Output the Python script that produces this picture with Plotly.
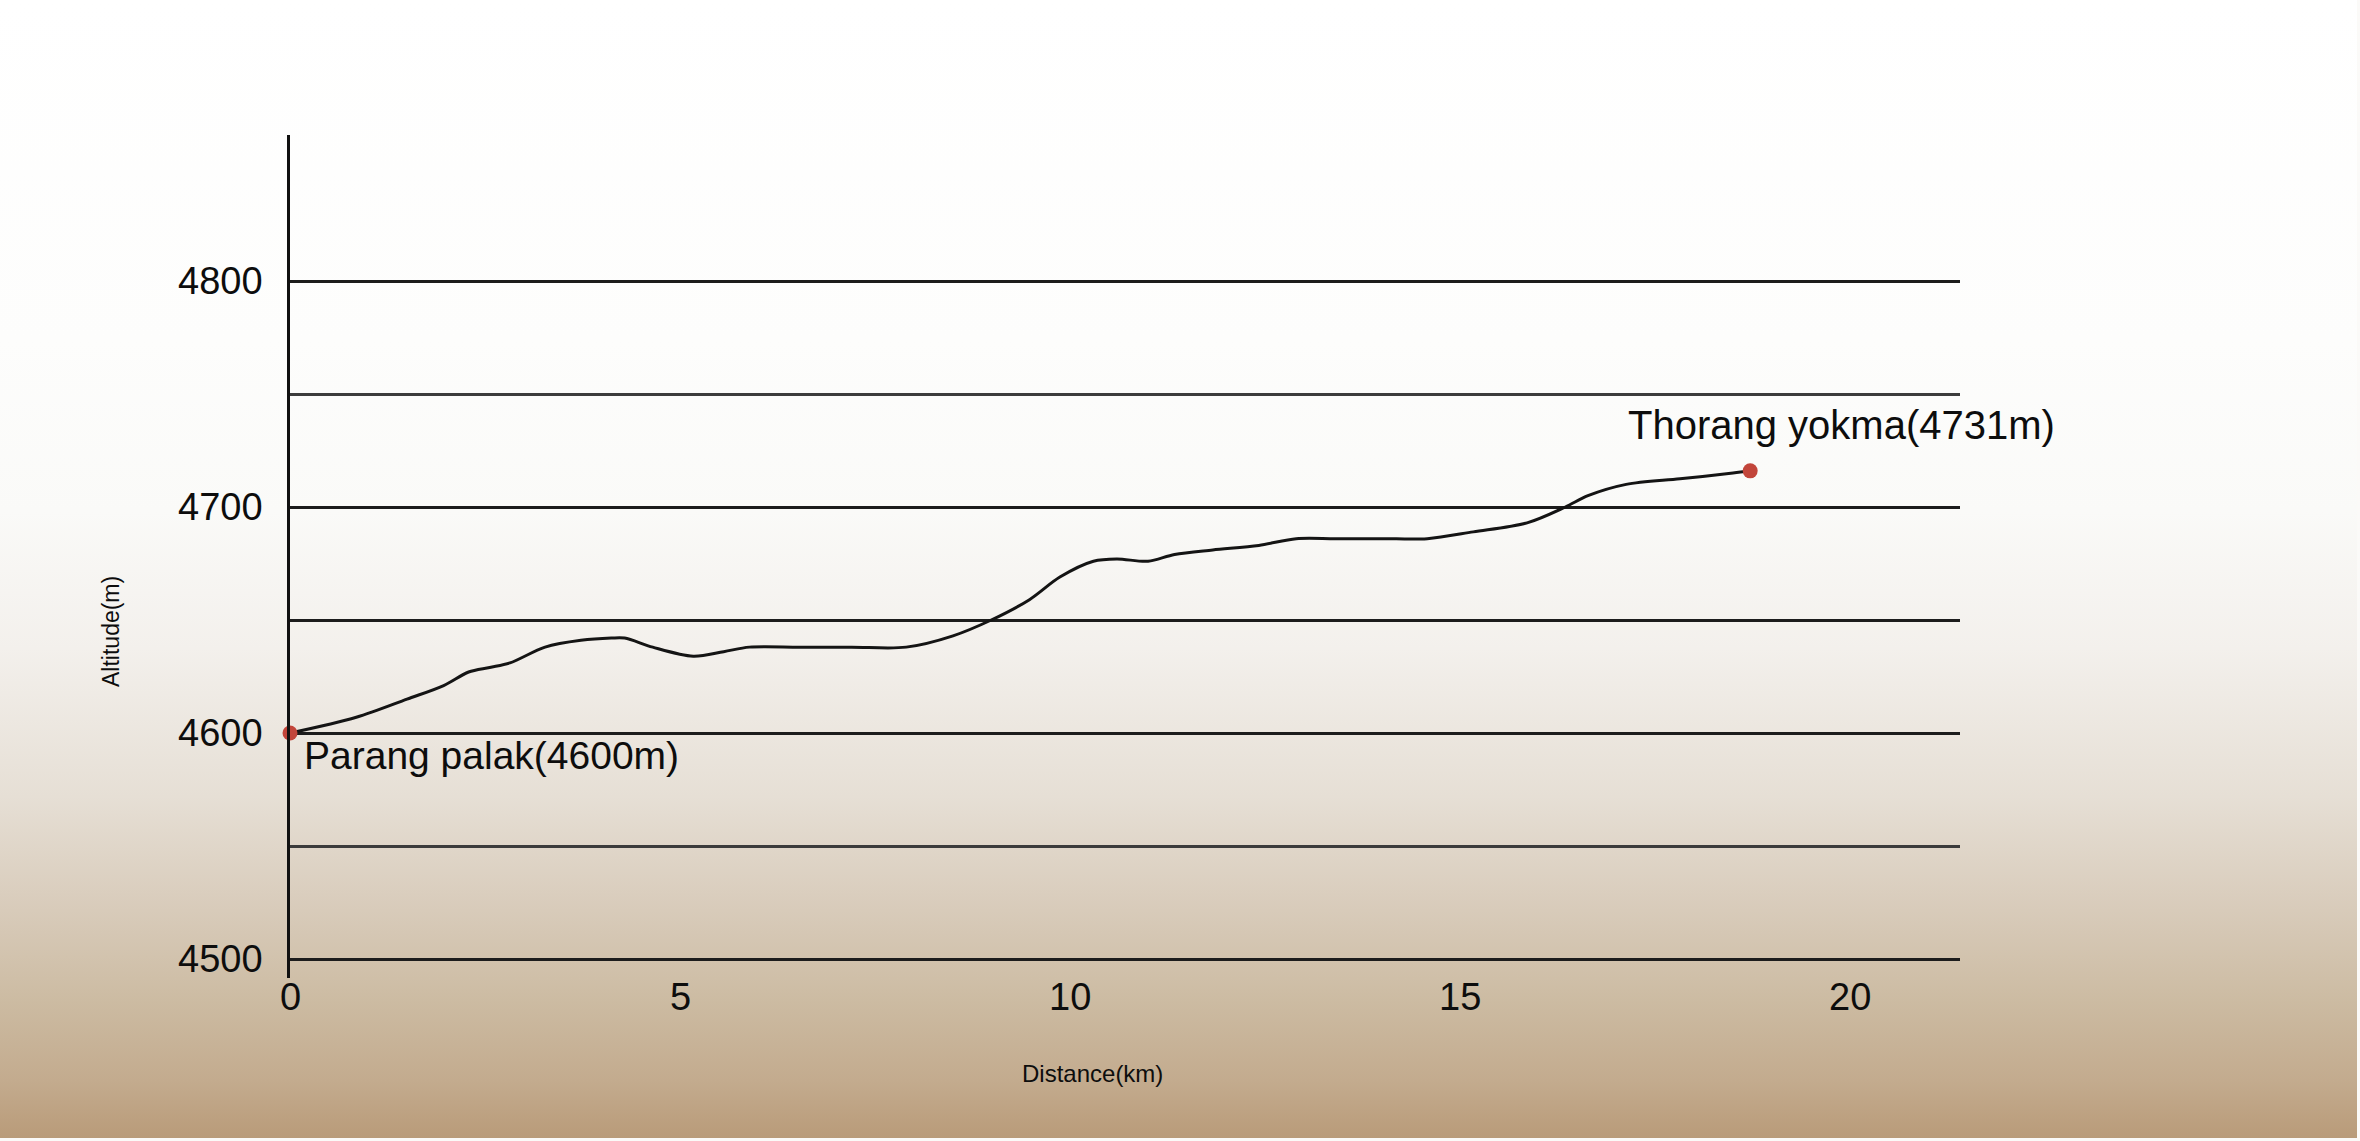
import base64
import plotly.graph_objects as go

# ---- data ----
dist_km = [0, 0.85, 1.5, 1.97, 2.29, 2.56, 2.82, 3.27, 3.73, 4.12, 4.29, 4.65, 5.17, 5.56,
           5.89, 6.53, 7.2, 7.9, 8.5, 8.99, 9.48, 9.87, 10.3, 10.6, 11.0, 11.34, 11.83,
           12.42, 12.9, 13.4, 14.0, 14.58, 15.17, 15.86, 16.35, 16.64, 17.13, 17.82, 18.5, 18.72]
altitude_m = [4600, 4607, 4615, 4621, 4627, 4629, 4631, 4638, 4641, 4642, 4642, 4638, 4634, 4636,
              4638, 4638, 4638, 4638, 4643, 4650, 4659, 4669, 4676, 4677, 4676, 4679, 4681,
              4683, 4686, 4686, 4686, 4686, 4689, 4693, 4700, 4705, 4710, 4712.5, 4715, 4716]

start_label = "Parang palak(4600m)"
end_label = "Thorang yokma(4731m)"
x_ticks = [0, 5, 10, 15, 20]
y_major = [4500, 4600, 4650, 4700, 4800]
y_major_text = ["4500", "4600", "", "4700", "4800"]
y_minor = [4550, 4750]

# ---- layout geometry ----
W, H = 2360, 1141
ML, MR, MT, MB = 290, 400, 135, 163
PW, PH = W - ML - MR, H - MT - MB
FONT = "Liberation Sans, Arial, Helvetica, sans-serif"
INK = "#0d0d0d"

# background gradient (paper photo look)
stops = [(0.0, "#ffffff"), (0.30, "#fdfdfc"), (0.45, "#fafaf8"), (0.57, "#f3f0ec"),
         (0.70, "#e6dfd5"), (0.80, "#d8cbba"), (0.88, "#ccbba2"), (0.95, "#c3ab8e"),
         (1.0, "#b99b79")]
stop_xml = "".join(f'<stop offset="{o}" stop-color="{c}"/>' for o, c in stops)
svg = (f'<svg xmlns="http://www.w3.org/2000/svg" width="{W}" height="{H}" '
       f'viewBox="0 0 {W} {H}" preserveAspectRatio="none">'
       f'<defs><linearGradient id="g" x1="0" y1="0" x2="0" y2="1">{stop_xml}</linearGradient></defs>'
       f'<rect width="{W}" height="{H}" fill="#fbfaf8"/>'
       f'<rect width="{W-3}" height="{H-3}" fill="url(#g)"/></svg>')
bg_uri = "data:image/svg+xml;base64," + base64.b64encode(svg.encode()).decode()

fig = go.Figure()
fig.add_trace(go.Scatter(
    x=dist_km, y=altitude_m, mode="lines",
    line=dict(color="#141414", width=3, shape="spline", smoothing=0.9),
    hoverinfo="skip", showlegend=False))
fig.add_trace(go.Scatter(
    x=[dist_km[0], dist_km[-1]], y=[altitude_m[0], altitude_m[-1]], mode="markers",
    marker=dict(color="#c2453a", size=15), cliponaxis=False,
    hoverinfo="skip", showlegend=False))

fig.add_annotation(x=dist_km[0], y=altitude_m[0], text=start_label, showarrow=False,
                   xanchor="left", yanchor="middle", xshift=12, yshift=-22,
                   font=dict(family=FONT, size=39, color=INK))
fig.add_annotation(x=dist_km[-1], y=altitude_m[-1], text=end_label, showarrow=False,
                   xanchor="left", yanchor="middle", xshift=-124, yshift=46,
                   font=dict(family=FONT, size=40, color=INK))
fig.add_annotation(xref="paper", yref="paper", x=(111 - ML) / PW, y=(H - MB - 632) / PH,
                   text="Altitude(m)", textangle=-90, showarrow=False,
                   xanchor="center", yanchor="middle",
                   font=dict(family=FONT, size=23, color=INK))
fig.add_annotation(xref="paper", yref="paper", x=(1092 - ML) / PW, y=(H - MB - 1073) / PH,
                   text="Distance(km)", showarrow=False,
                   xanchor="center", yanchor="middle",
                   font=dict(family=FONT, size=24, color=INK))
# x tick labels placed close under the axis, as in the reference
for t in x_ticks:
    fig.add_annotation(x=t, yref="paper", y=(H - MB - 997) / PH, text=str(t), showarrow=False,
                       xanchor="center", yanchor="middle",
                       font=dict(family=FONT, size=38, color=INK))

fig.update_layout(
    width=W, height=H, autosize=False,
    margin=dict(l=ML, r=MR, t=MT, b=MB, pad=0),
    paper_bgcolor="#ffffff", plot_bgcolor="rgba(0,0,0,0)",
    font=dict(family=FONT, color=INK),
    images=[dict(source=bg_uri, xref="paper", yref="paper",
                 x=-ML / PW, y=1 + MT / PH, sizex=W / PW, sizey=H / PH,
                 xanchor="left", yanchor="top", sizing="stretch", layer="below")],
    xaxis=dict(range=[0, 21.41], tickvals=x_ticks, showticklabels=False, showgrid=False,
               zeroline=False, showline=False, ticks=""),
    yaxis=dict(range=[4491.6, 4864.6], tickvals=y_major, ticktext=y_major_text, showgrid=True,
               gridcolor="#1c1c1c", gridwidth=3, zeroline=False,
               showline=True, linecolor="#111111", linewidth=2.5,
               ticks="outside", ticklen=17, tickcolor="rgba(0,0,0,0)",
               tickfont=dict(family=FONT, size=38, color=INK),
               minor=dict(tickvals=y_minor, showgrid=True, ticks="",
                          gridcolor="#3c3c3c", gridwidth=2.5)),
)

fig.write_html("out.html", config={"displayModeBar": False},
               post_script="document.body.style.margin='0';")
